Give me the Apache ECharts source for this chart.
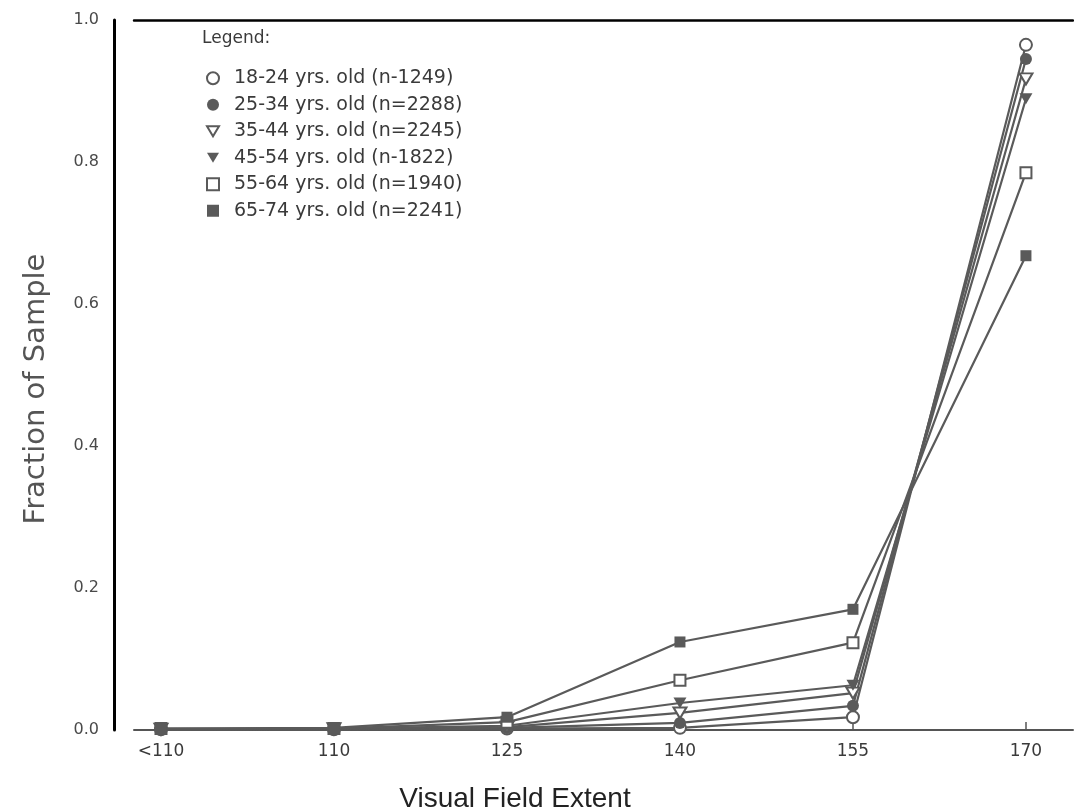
<!DOCTYPE html>
<html>
<head>
<meta charset="utf-8">
<script src="https://cdn.jsdelivr.net/npm/echarts@6/dist/echarts.min.js"></script>
<style>
  html, body { margin: 0; padding: 0; background: #ffffff; }
  #chart { width: 1074px; height: 809px; }
</style>
</head>
<body>
<div id="chart"></div>
<script>
// Visual field extent categories (degrees)
const categories = ['<110', '110', '125', '140', '155', '170'];

// Age groups
const groupNames = [
  '18-24 yrs. old (n-1249)',
  '25-34 yrs. old (n=2288)',
  '35-44 yrs. old (n=2245)',
  '45-54 yrs. old (n-1822)',
  '55-64 yrs. old (n=1940)',
  '65-74 yrs. old (n=2241)'
];

// Fraction of sample per category, one array per age group
const age18to24 = [0.001, 0.001, 0.002, 0.003, 0.018, 0.965];
const age25to34 = [0.001, 0.001, 0.003, 0.010, 0.034, 0.945];
const age35to44 = [0.001, 0.002, 0.004, 0.024, 0.052, 0.917];
const age45to54 = [0.001, 0.002, 0.006, 0.038, 0.063, 0.889];
const age55to64 = [0.002, 0.002, 0.011, 0.070, 0.123, 0.785];
const age65to74 = [0.002, 0.003, 0.018, 0.124, 0.170, 0.668];

const yTicks = [0, 0.2, 0.4, 0.6, 0.8, 1.0];

const ink = '#5a5a5a';
const downTri = 'path://M0,0L20,0L10,17Z';

// symbol + fill style for each group
const markers = [
  { symbol: 'circle', hollow: true },
  { symbol: 'circle', hollow: false },
  { symbol: downTri, hollow: true },
  { symbol: downTri, hollow: false },
  { symbol: 'rect', hollow: true },
  { symbol: 'rect', hollow: false }
];
const groups = [age18to24, age25to34, age35to44, age45to54, age55to64, age65to74];

function markerStyle(m) {
  return m.hollow
    ? { color: '#ffffff', borderColor: ink, borderWidth: 2 }
    : { color: ink, borderColor: ink, borderWidth: 0 };
}

const series = groups.map((vals, gi) => ({
  name: groupNames[gi],
  type: 'line',
  data: vals.map((v, i) => [i, v]),
  symbol: markers[gi].symbol,
  symbolSize: markers[gi].symbol === 'rect' ? 11 : (markers[gi].symbol === 'circle' ? 12 : [13, 11]),
  showAllSymbol: true,
  lineStyle: { color: ink, width: 2.2 },
  itemStyle: markerStyle(markers[gi]),
  emphasis: { disabled: true },
  z: 3 + gi
}));

const uiFont = 'DejaVu Sans';
const xMin = -0.156, xMax = 5.272;

const chart = echarts.init(document.getElementById('chart'), null, { renderer: 'canvas' });
chart.setOption({
  animation: false,
  backgroundColor: '#ffffff',
  grid: { left: 134, right: 1, top: 20, bottom: 79 },
  title: [
    {
      text: 'Legend:',
      left: 197, top: 25,
      textStyle: { fontFamily: uiFont, fontSize: 17, fontWeight: 'normal', color: '#3a3a3a' }
    },
    {
      text: 'Visual Field Extent',
      left: 510, top: 780, textAlign: 'center',
      textStyle: { fontFamily: 'Liberation Sans', fontSize: 28, fontWeight: 'normal', color: '#222' }
    }
  ],
  legend: {
    orient: 'vertical',
    left: 201, top: 62,
    itemWidth: 12, itemHeight: 12,
    itemGap: 4,
    selectedMode: false,
    textStyle: { fontFamily: uiFont, fontSize: 19, lineHeight: 22.5, color: '#3a3a3a', padding: [0, 0, 0, 10] },
    data: groupNames.map((n, gi) => ({
      name: n,
      icon: markers[gi].symbol,
      itemStyle: markerStyle(markers[gi])
    }))
  },
  xAxis: [
    {
      type: 'value',
      min: xMin, max: xMax,
      splitLine: { show: false },
      axisLine: { show: true, onZero: false, lineStyle: { color: '#555', width: 2 } },
      axisTick: { show: true, inside: true, length: 8, customValues: categories.map((c, i) => i),
                  lineStyle: { color: '#555', width: 1.5 } },
      axisLabel: {
        customValues: categories.map((c, i) => i),
        formatter: v => categories[Math.round(v)],
        margin: 13,
        fontFamily: uiFont, fontSize: 17, color: '#3a3a3a'
      }
    },
    {
      type: 'value',
      position: 'top',
      min: xMin, max: xMax,
      splitLine: { show: false },
      axisLine: { show: true, onZero: false, lineStyle: { color: '#000', width: 2.5 } },
      axisTick: { show: false },
      axisLabel: { show: false }
    }
  ],
  yAxis: {
    type: 'value',
    min: 0, max: 1, interval: 0.2,
    offset: 20,
    splitLine: { show: false },
    axisLine: { show: true, onZero: false, lineStyle: { color: '#000', width: 3 } },
    axisTick: { show: false },
    axisLabel: {
      customValues: yTicks,
      formatter: v => v.toFixed(1),
      margin: 15,
      fontFamily: uiFont, fontSize: 16, color: '#4a4a4a'
    }
  },
  graphic: [
    {
      type: 'text',
      x: 36, y: 389,
      rotation: Math.PI / 2,
      style: {
        text: 'Fraction of Sample',
        align: 'center', verticalAlign: 'middle',
        font: '29px "DejaVu Sans"',
        fill: '#555'
      }
    }
  ],
  series: series
});
</script>
</body>
</html>
